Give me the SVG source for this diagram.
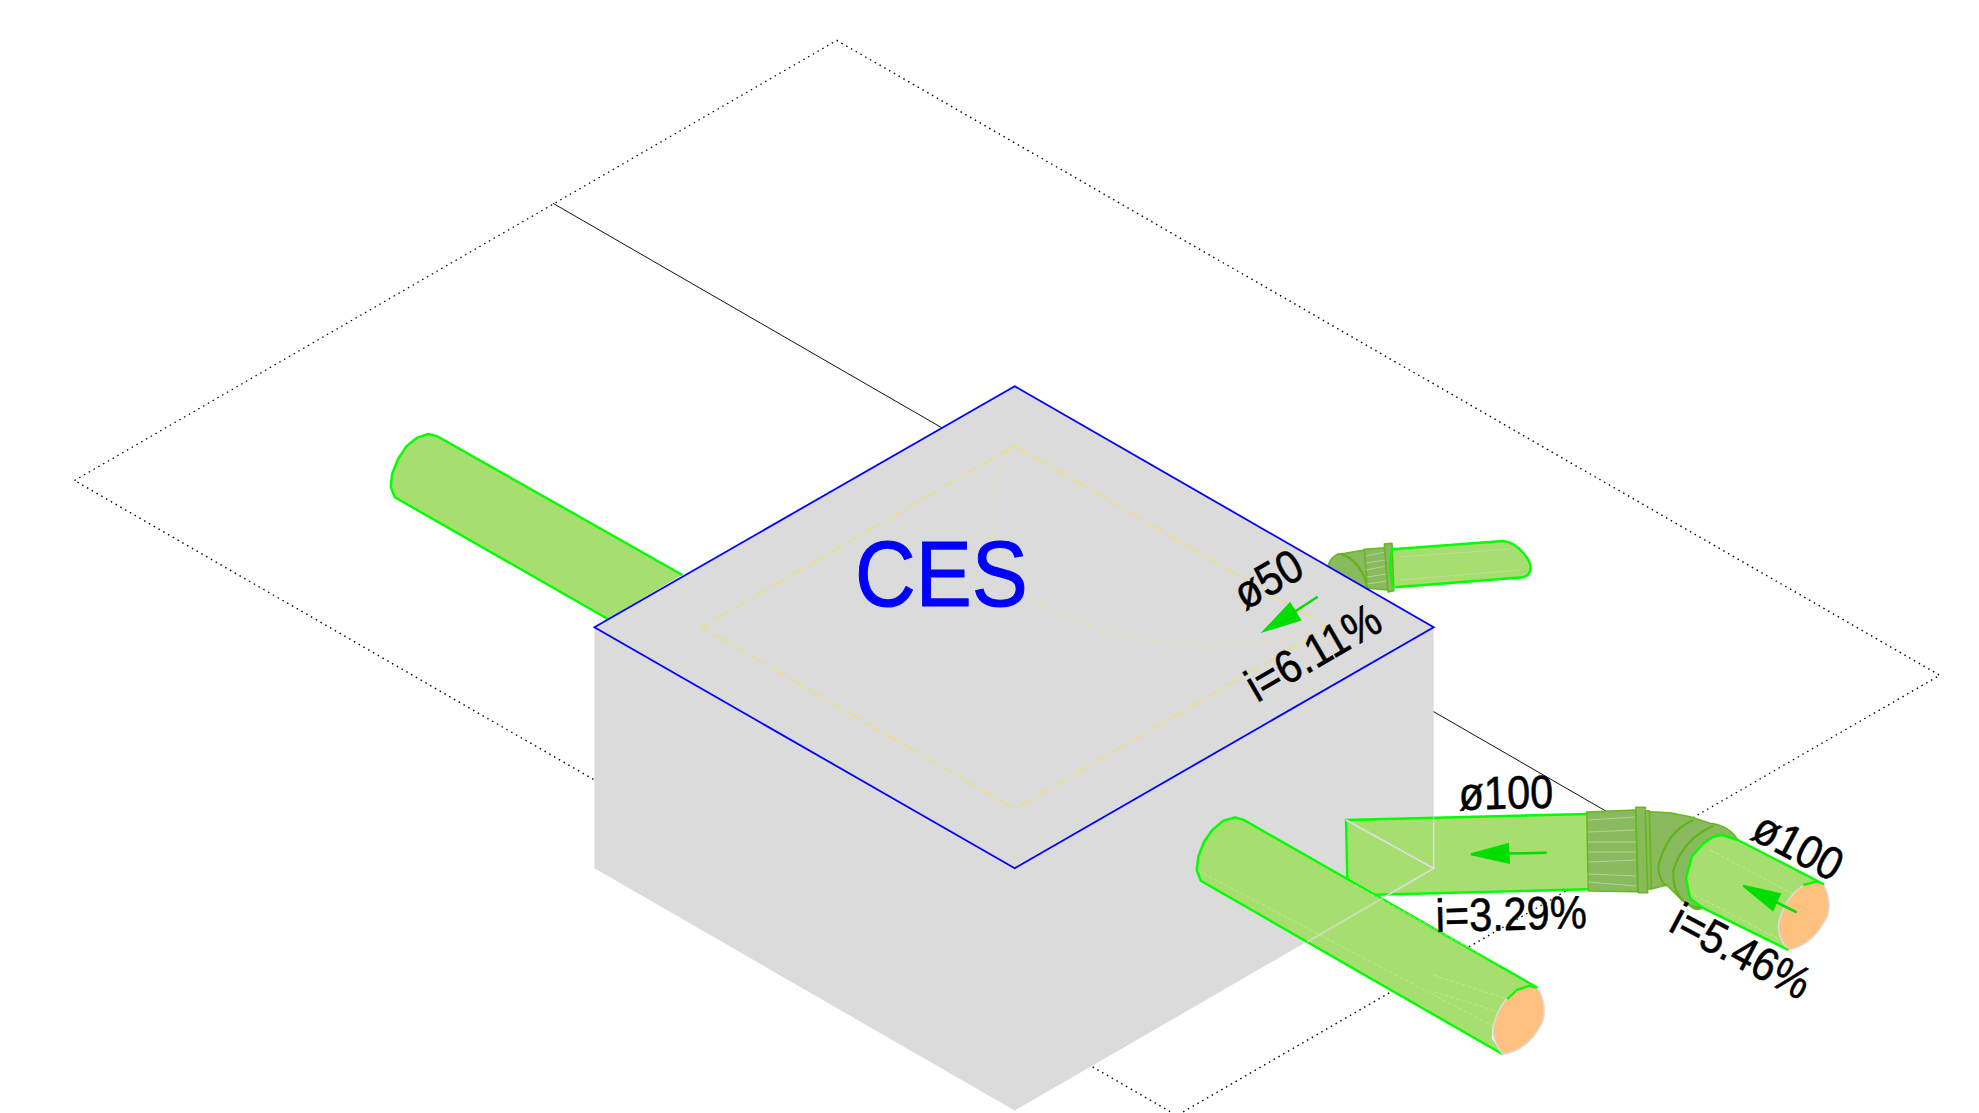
<svg xmlns="http://www.w3.org/2000/svg" width="1979" height="1113" viewBox="0 0 1979 1113">
<style>
.pipe{fill:#a6df70;stroke:none}
.edge{fill:none;stroke:#00ff00;stroke-width:2.4;stroke-linejoin:round}
.fit{fill:#8aba5e;stroke:#66b81e;stroke-width:1.5;stroke-linejoin:round}
.ring{fill:none;stroke:#5fb515;stroke-width:2}
.hatch{fill:none;stroke:#c4dcae;stroke-width:.7}
.cut{fill:#fec180;stroke:#dcdcdc;stroke-width:1.5;stroke-linejoin:round}
.ghost{fill:none;stroke:#dcdcdc;stroke-width:1.5}
.faint{fill:none;stroke:#c9eeac;stroke-width:.8;stroke-dasharray:4 2;opacity:.8}
.arrow{fill:#00dd00;stroke:#00dd00;stroke-width:2}
.lbl{font-family:"Liberation Sans",Arial,sans-serif;font-size:41.5px;fill:#000;stroke:#000;stroke-width:.5}
</style>
<rect width="1979" height="1113" fill="#fff"/>
<g id="plot">
<path d="M74.5 480.5L836.8 40.4L1939.8 675.2L1177 1115.5Z" fill="none" stroke="#000" stroke-width="1.4" stroke-dasharray="1.5 4"/>
<path d="M552.8 203.2L1606.6 811.5" fill="none" stroke="#111" stroke-width="1"/>
</g>
<g id="pipe-left">
<path class="pipe" d="M438 436.7L428.3 434L417.1 437.7L406.9 445.7L398 459L392 474L390.8 487.3L394.8 497.3L607.8 619L682.3 575Z"/>
<path class="edge" d="M682.3 575L438 436.7L428.3 434L417.1 437.7L406.9 445.7L398 459L392 474L390.8 487.3L394.8 497.3L607.8 619"/>
</g>
<g id="pipe-small">
<path class="fit" d="M1328.3 565Q1331 557 1338 554L1345 553.3L1364.3 550L1367.7 588L1350 588Z"/>
<path class="ring" d="M1341 554Q1360 560 1367.7 587"/>
<path class="fit" d="M1364.3 549.3L1385 547.7L1388.3 590L1367.7 588.3Z"/>
<path class="hatch" d="M1366 556L1385 552M1366 563L1386 560M1366 570L1386 566M1367 577L1387 574M1367 584L1387 581"/>
<path class="pipe" d="M1390 549.3L1503.3 541Q1514 542 1523.3 553Q1531 562 1530.7 568.3Q1530 575 1523.3 577.3L1393.3 587.3L1389.3 566.7Z"/>
<path class="fit" d="M1384.3 544L1392 543.3L1394 590.7L1388 592Z"/>
<path class="hatch" d="M1400 557L1510 549M1400 580L1520 570"/>
<path class="edge" d="M1392 549.3L1503.3 541Q1514 542 1523.3 553Q1531 562 1530.7 568.3Q1530 575 1523.3 577.3L1395 587.3M1392 549.3L1390 567L1393 587"/>
</g>
<g id="chamber">
<path d="M594.4 627.2L1014.7 386.2L1433.7 627.2L1433.7 868.3L1014.7 1110.6L594.4 868.3Z" fill="#dbdbdb"/>
<path d="M594.4 627.2L1014.7 386.2L1433.7 627.2L1014.7 868.3Z" fill="none" stroke="#0000ff" stroke-width="1.8"/>
<path d="M1014.7 445.5L1327.7 627.2L1014.7 809L701.7 627.2Z" fill="none" stroke="#ebe070" stroke-width="1.3" stroke-dasharray="17 5"/>
<path d="M1014.7 445.5C985 480 975 550 1035 600C1090 640 1230 665 1328 627" fill="none" stroke="#f2e56c" stroke-width="1.8" stroke-dasharray="1.5 6"/>
<text id="ces" transform="translate(855 606) scale(1 1.1)" font-family="'Liberation Sans',Arial,sans-serif" font-size="84" fill="#0000ff" stroke="#0000ff" stroke-width="1">CES</text>
</g>
<g id="pipe-elbow">
<path class="pipe" d="M1346 820L1586.7 814L1588 889.3L1375.7 894.7L1347.3 879.3Z"/>
<path class="edge" d="M1347.3 879.3L1346 820L1586.7 814M1588 889.3L1375.7 894.7"/>
<path class="fit" d="M1649.3 811.7L1670 812.7L1690 816.7L1710 823.3Q1730 826 1737.7 840L1703.3 908.3Q1696 910 1693.3 908.3L1680 898.3L1666.7 885L1651.3 889Z"/>
<path class="ring" d="M1693 820Q1666 832 1658.3 866.7Q1659 880 1666 886"/>
<path class="ring" d="M1713.3 826Q1684 838 1673.3 870Q1672 888 1682 900Q1692 908 1702 908"/>
<path class="fit" d="M1586.7 812L1635.7 810L1637.7 891.7L1588.3 891Z"/>
<path class="hatch" d="M1588 820L1635 817M1588 832L1635 830M1588 842L1636 842M1588 852L1636 852M1588 862L1636 860M1588 874L1636 876M1588 882L1636 886"/>
<path class="fit" d="M1635.7 807.3L1645.3 807.3L1647.7 892.7L1638.3 892.7Z"/>
<path class="fit" d="M1645.3 810.7L1649.3 810.7L1651.3 889L1647.7 889Z"/>
<path class="pipe" d="M1721.7 835L1737.7 840L1823.3 884L1788.3 950L1701.7 907.3L1690 898.3L1686 878.3L1691.7 856.7L1703.3 843.3L1713.3 836.7Z"/>
<path class="faint" d="M1710 850L1795 895M1695 895L1780 940"/>
<path class="cut" d="M1823.3 884C1832 900 1830 915 1823.3 923.3C1815 938 1802 947 1788.3 950C1778 938 1776 925 1781.7 913.3C1788 897 1802 878 1823.3 884Z"/>
<path class="edge" d="M1803.3 885L1816.7 881.5L1823.3 884L1737.7 840L1721.7 835L1713.3 836.7L1703.3 843.3L1691.7 856.7L1686 878.3L1690 898.3L1701.7 907.3L1788.3 950"/>
<path class="ghost" d="M1346 820L1433.7 868.3L1307 942M1433.7 817V868.3"/>
</g>
<g id="pipe-front">
<path class="pipe" d="M1244 820L1235 817.3L1223.3 820.7L1212.3 830L1204 841.7L1198.3 856.7L1196.7 870L1200.7 880.7L1502.7 1054.3L1491.7 1038.3L1492.7 1026L1498.3 1011.7L1507.3 999L1516.7 990L1529.3 986L1537.3 987.7Z"/>
<path class="edge" d="M1537.3 987.7L1244 820L1235 817.3L1223.3 820.7L1212.3 830L1204 841.7L1198.3 856.7L1196.7 870L1200.7 880.7L1502.7 1054.3"/>
<path class="faint" d="M1198.3 870.7L1492.7 1026M1433.3 975L1507.3 999M1433.3 991.7L1498.3 1011.7M1355 885L1500 965"/>
<path class="cut" d="M1537.3 987.7C1546 1000 1546 1018 1540 1026.7C1533 1040 1520 1052 1502.7 1054.3C1492 1040 1490 1028 1498.3 1011.7C1505 998 1518 984 1537.3 987.7Z"/>
<path class="edge" d="M1507.3 999L1516.7 990L1529.3 986L1537.3 987.7"/>
<path class="ghost" d="M1433.7 868.3L1307 942M1346 820L1433.7 868.3" opacity=".75"/>
</g>
<g id="connectors">
<path class="arrow" d="M1471 854.3L1508 844L1509 862.7Z"/>
<path d="M1508 853.5L1546.6 852.7" stroke="#00dd00" stroke-width="2.5"/>
<path class="arrow" d="M1743.3 885.7L1780 894L1772.7 910Z"/>
<path d="M1776 902L1796.7 912.3" stroke="#00dd00" stroke-width="2.5"/>
<path class="arrow" d="M1264 631L1290 603.3L1300 620Z"/>
<path d="M1295 611.5L1317.7 596.7" stroke="#00dd00" stroke-width="2.5"/>
</g>
<g id="labels">
<text class="lbl" transform="translate(1459 810) rotate(-1.5) scale(1 1.12)">ø100</text>
<text class="lbl" transform="translate(1436 932) rotate(-1.5) scale(1 1.12)">i=3.29%</text>
<text class="lbl" transform="translate(1749 838) rotate(28) scale(1 1.12)">ø100</text>
<text class="lbl" transform="translate(1667 930) rotate(28) scale(1 1.12)">i=5.46%</text>
<text class="lbl" transform="translate(1245 611) rotate(-30) scale(1 1.12)">ø50</text>
<text class="lbl" transform="translate(1257 703) rotate(-30) scale(1 1.12)">i=6.11%</text>
</g>
</svg>
